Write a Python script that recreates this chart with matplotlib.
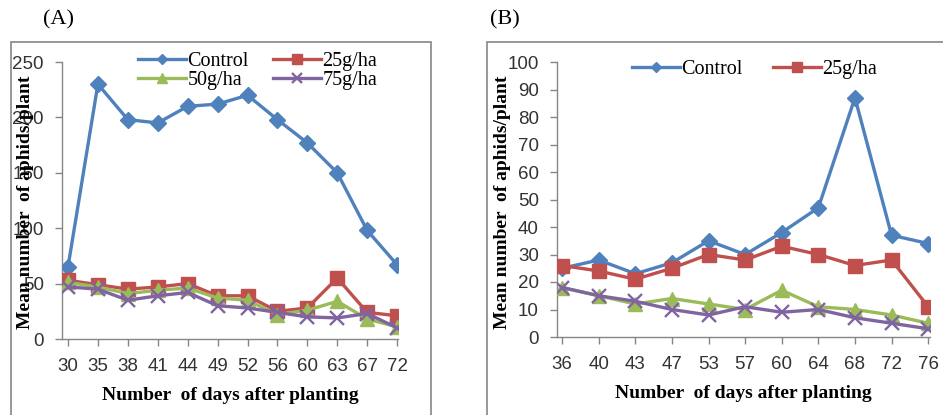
import matplotlib
matplotlib.use("Agg")
import matplotlib.pyplot as plt
from matplotlib.patches import Rectangle

# Panel A data
days_a = ["30", "35", "38", "41", "44", "49", "52", "56", "60", "63", "67", "72"]
control_a = [65, 230, 198, 195, 210, 212, 220, 198, 177, 150, 98, 67]
g25_a = [53, 49, 45, 47, 50, 39, 39, 25, 28, 55, 24, 21]
g50_a = [51, 47, 41, 44, 46, 37, 35, 22, 26, 34, 18, 11]
g75_a = [47, 45, 35, 39, 42, 30, 28, 24, 20, 19, 23, 10]

# Panel B data
days_b = ["36", "40", "43", "47", "53", "57", "60", "64", "68", "72", "76"]
control_b = [25, 28, 23, 27, 35, 30, 38, 47, 87, 37, 34]
g25_b = [26, 24, 21, 25, 30, 28, 33, 30, 26, 28, 11]
g50_b = [18, 15, 12, 14, 12, 10, 17, 11, 10, 8, 5]
g75_b = [18, 15, 13, 10, 8, 11, 9, 10, 7, 5, 3]

C_BLUE = "#4F81BD"
C_RED = "#C0504D"
C_GREEN = "#9BBB59"
C_PURPLE = "#8064A2"
C_AXIS = "#868686"

SERIF = "Liberation Serif"
SANS = "Liberation Sans"

W, H = 943, 415
fig = plt.figure(figsize=(W / 100, H / 100), dpi=100)


def px_axes(left, right, top, bottom):
    return fig.add_axes([left / W, 1 - bottom / H, (right - left) / W, (bottom - top) / H])


def draw_series(ax, x, series):
    lines = []
    for vals, color, marker, ms, label in series:
        mfc = color if marker != "x" else "none"
        (ln,) = ax.plot(
            x, vals, color=color, linewidth=2.4, marker=marker, markersize=ms,
            markerfacecolor=mfc, markeredgecolor=color, markeredgewidth=1.7 if marker == "x" else 1,
            label=label, zorder=3,
        )
        lines.append(ln)
    return lines


def style_axes(ax, labels, ymax, ystep, xlim):
    ax.set_xlim(*xlim)
    ax.set_ylim(0, ymax)
    ax.set_xticks(range(len(labels)))
    ax.set_xticklabels(labels)
    ax.set_yticks(range(0, ymax + 1, ystep))
    for s in ("top", "right"):
        ax.spines[s].set_visible(False)
    for s in ("left", "bottom"):
        ax.spines[s].set_color(C_AXIS)
        ax.spines[s].set_linewidth(1.0)
    ax.tick_params(axis="both", colors=C_AXIS, length=5, width=1, labelcolor="#333333",
                   labelsize=13.5)
    ax.tick_params(axis="x", pad=9)
    ax.tick_params(axis="y", pad=8)
    for t in ax.get_xticklabels() + ax.get_yticklabels():
        t.set_fontfamily(SANS)
    ax.set_xlabel("Number  of days after planting", fontfamily=SERIF, fontweight="bold",
                  fontsize=14, labelpad=8)


# ------------------ Panel A ------------------
fig.add_artist(Rectangle((11 / W, -0.05), (431 - 11) / W, 1.05 - 42 / H,
                         transform=fig.transFigure, fill=False, edgecolor=C_AXIS, lw=1.2))
ax1 = px_axes(62, 398, 62, 339)
x_a = list(range(len(days_a)))
la = draw_series(ax1, x_a, [
    (control_a, C_BLUE, "D", 8, "Control"),
    (g25_a, C_RED, "s", 10, "25g/ha"),
    (g50_a, C_GREEN, "^", 9.5, "50g/ha"),
    (g75_a, C_PURPLE, "x", 9.5, "75g/ha"),
])
style_axes(ax1, days_a, 250, 50, (-0.2, 11.03))
# legend filled row by row: Control, 25g/ha / 50g/ha, 75g/ha
ax1.legend(handles=[la[0], la[2], la[1], la[3]], ncol=2, loc="upper left",
           bbox_to_anchor=(138 / W, 1 - 52 / H),
           bbox_transform=fig.transFigure, frameon=False, prop={"family": SERIF, "size": 14.5},
           handlelength=2.4, handletextpad=0.05, columnspacing=1.2, labelspacing=0.0,
           borderaxespad=0, borderpad=0, markerscale=0.7)
fig.text(26 / W, 1 - 202 / H, "Mean number  of aphids/plant", rotation=90, ha="center",
         va="center", fontfamily=SERIF, fontweight="bold", fontsize=14)
fig.text(43 / W, 1 - 20 / H, "(A)", ha="left", va="center", fontfamily=SERIF, fontsize=16)

# ------------------ Panel B ------------------
fig.add_artist(Rectangle((487 / W, -0.05), 1.0, 1.05 - 42 / H,
                         transform=fig.transFigure, fill=False, edgecolor=C_AXIS, lw=1.2))
ax2 = px_axes(557, 930, 62, 337)
x_b = list(range(len(days_b)))
lb = draw_series(ax2, x_b, [
    (control_b, C_BLUE, "D", 8, "Control"),
    (g25_b, C_RED, "s", 10, "25g/ha"),
    (g50_b, C_GREEN, "^", 9.5, "50g/ha"),
    (g75_b, C_PURPLE, "x", 9.5, "75g/ha"),
])
style_axes(ax2, days_b, 100, 10, (-0.14, 10.05))
ax2.legend(handles=lb[:2], ncol=2, loc="upper left", bbox_to_anchor=(632 / W, 1 - 60 / H),
           bbox_transform=fig.transFigure, frameon=False, prop={"family": SERIF, "size": 14.5},
           handlelength=2.4, handletextpad=0.05, columnspacing=1.5, labelspacing=0.0,
           borderaxespad=0, borderpad=0, markerscale=0.7)
fig.text(503 / W, 1 - 202 / H, "Mean number  of aphids/plant", rotation=90, ha="center",
         va="center", fontfamily=SERIF, fontweight="bold", fontsize=14)
fig.text(490 / W, 1 - 20 / H, "(B)", ha="left", va="center", fontfamily=SERIF, fontsize=16)

fig.savefig("out.png", dpi=100)
